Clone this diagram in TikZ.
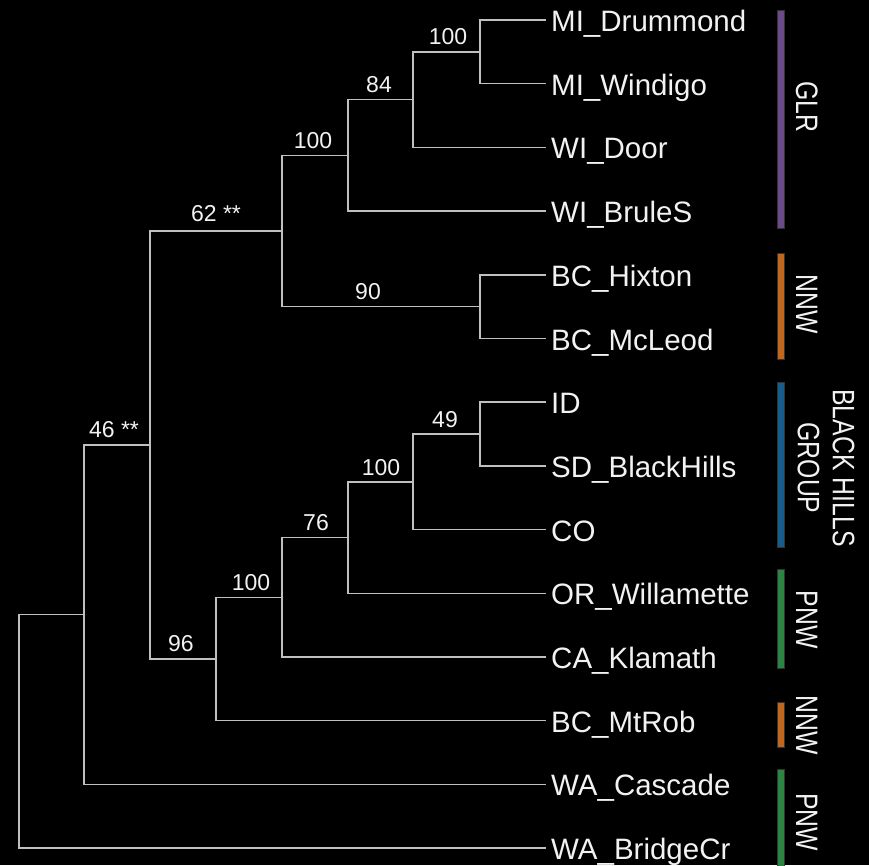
\documentclass[tikz,border=0pt]{standalone}
\usepackage{fontspec}
\setmainfont{Liberation Sans}
\newfontfamily\grpfont[FakeStretch=0.8]{Liberation Sans}
\definecolor{branch}{RGB}{192,192,192}
\definecolor{txt}{RGB}{242,242,242}
\definecolor{glr}{RGB}{107,74,138}
\definecolor{nnw}{RGB}{193,102,29}
\definecolor{bhg}{RGB}{22,92,140}
\definecolor{pnw}{RGB}{43,132,66}
\begin{document}
\begin{tikzpicture}[x=1pt,y=-1pt,
  br/.style={draw=branch,line width=1.5pt},
  leaf/.style={anchor=base west,inner sep=0pt,text=txt,font=\fontsize{29.5}{32}\selectfont},
  bs/.style={anchor=base,inner sep=0pt,text=txt,font=\fontsize{23}{26}\selectfont},
  grp/.style={rotate=-90,inner sep=0pt,text=txt,font=\grpfont\fontsize{31}{35}\selectfont,align=center},
  bar/.style={draw=black!80,line width=0.6pt}]
\fill[black] (0,0) rectangle (869,865);
\useasboundingbox (0,0) rectangle (869,865);

% leaf tips
\coordinate (t0) at (546,20);
\coordinate (t1) at (546,83.7);
\coordinate (t2) at (546,147.4);
\coordinate (t3) at (546,211.1);
\coordinate (t4) at (546,274.8);
\coordinate (t5) at (546,338.5);
\coordinate (t6) at (546,402.2);
\coordinate (t7) at (546,465.9);
\coordinate (t8) at (546,529.6);
\coordinate (t9) at (546,593.3);
\coordinate (t10) at (546,657);
\coordinate (t11) at (546,720.7);
\coordinate (t12) at (546,784.4);
\coordinate (t13) at (546,848.1);

% internal nodes
\coordinate (a) at (480,51.85);
\coordinate (b) at (413,99.6);
\coordinate (c) at (348,155.4);
\coordinate (d) at (480,306.65);
\coordinate (e) at (282,231);
\coordinate (h) at (480,434.05);
\coordinate (i) at (413,481.8);
\coordinate (j) at (348,537.6);
\coordinate (k) at (282,597.3);
\coordinate (l) at (216,659);
\coordinate (f) at (150,445);
\coordinate (g) at (84,614.7);
\coordinate (root) at (19,731.4);

% branches
\draw[br] (a) |- (t0);  \draw[br] (a) |- (t1);
\draw[br] (b) |- (a);   \draw[br] (b) |- (t2);
\draw[br] (c) |- (b);   \draw[br] (c) |- (t3);
\draw[br] (d) |- (t4);  \draw[br] (d) |- (t5);
\draw[br] (e) |- (c);   \draw[br] (e) |- (d);
\draw[br] (h) |- (t6);  \draw[br] (h) |- (t7);
\draw[br] (i) |- (h);   \draw[br] (i) |- (t8);
\draw[br] (j) |- (i);   \draw[br] (j) |- (t9);
\draw[br] (k) |- (j);   \draw[br] (k) |- (t10);
\draw[br] (l) |- (k);   \draw[br] (l) |- (t11);
\draw[br] (f) |- (e);   \draw[br] (f) |- (l);
\draw[br] (g) |- (f);   \draw[br] (g) |- (t12);
\draw[br] (root) |- (g); \draw[br] (root) |- (t13);

% leaf labels
\node[leaf] (n0) at (551,31.5) {MI\_Drummond};
\node[leaf] (n1) at (551,95.2) {MI\_Windigo};
\node[leaf] (n2) at (551,158.9) {WI\_Door};
\node[leaf] (n3) at (551,222.6) {WI\_BruleS};
\node[leaf] (n4) at (551,286.3) {BC\_Hixton};
\node[leaf] (n5) at (551,350) {BC\_McLeod};
\node[leaf] (n6) at (551,413.7) {ID};
\node[leaf] (n7) at (551,477.4) {SD\_BlackHills};
\node[leaf] (n8) at (551,541.1) {CO};
\node[leaf] (n9) at (551,604.8) {OR\_Willamette};
\node[leaf] (n10) at (551,668.5) {CA\_Klamath};
\node[leaf] (n11) at (551,732.2) {BC\_MtRob};
\node[leaf] (n12) at (551,795.9) {WA\_Cascade};
\node[leaf] (n13) at (551,859.6) {WA\_BridgeCr};

% support values
\node[bs] (sa) at (448,44) {100};
\node[bs] (sb) at (379,92) {84};
\node[bs] (sc) at (313,148) {100};
\node[bs] (sd) at (368,299) {90};
\node[bs] (se) at (216,221) {62 **};
\node[bs] (sh) at (445,427) {49};
\node[bs] (si) at (381,475) {100};
\node[bs] (sj) at (316,530) {76};
\node[bs] (sk) at (251,590) {100};
\node[bs] (sl) at (181,651) {96};
\node[bs] (sf) at (114,437) {46 **};

% group bars
\filldraw[bar,fill=glr] (777,10) rectangle (784,228);
\filldraw[bar,fill=nnw] (777,253) rectangle (784,359);
\filldraw[bar,fill=bhg] (777,382) rectangle (784,547);
\filldraw[bar,fill=pnw] (777,569) rectangle (784,668);
\filldraw[bar,fill=nnw] (777,702) rectangle (784,747);
\filldraw[bar,fill=pnw] (777,769) rectangle (784,866);

% group labels
\node[grp,anchor=base] (g1) at (796,107) {GLR};
\node[grp,anchor=base] (g2) at (796,304.5) {NNW};
\node[grp] (g3) at (826,468) {BLACK HILLS\\GROUP};
\node[grp,anchor=base] (g4) at (796,619.5) {PNW};
\node[grp,anchor=base] (g5) at (796,725) {NNW};
\node[grp,anchor=base] (g6) at (796,822) {PNW};
\end{tikzpicture}
\end{document}
